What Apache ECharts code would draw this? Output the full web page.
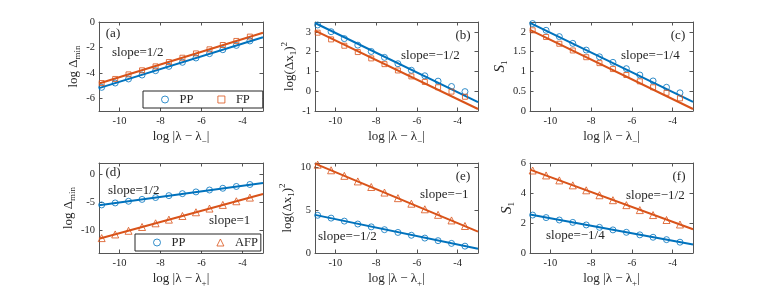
<!DOCTYPE html>
<html><head><meta charset="utf-8">
<script src="https://cdn.jsdelivr.net/npm/echarts@6/dist/echarts.min.js"></script>
<style>html,body{margin:0;padding:0;background:#fff}#c{width:766px;height:299px}</style>
</head><body><div id="c"></div>
<script>
// ---------- data ----------
const xPts = [-10.87, -10.21, -9.56, -8.9, -8.24, -7.59, -6.93, -6.27, -5.61, -4.96, -4.3, -3.64];
const xTicks = [-10, -8, -6, -4];
const fitX = [-11, -3];

// (a) log Delta_min vs log|lambda - lambda_-|
const aPP = [-5.14, -4.80, -4.48, -4.17, -3.83, -3.49, -3.17, -2.83, -2.49, -2.18, -1.84, -1.49];
const aFP = [-4.80, -4.48, -4.12, -3.80, -3.49, -3.15, -2.81, -2.47, -2.15, -1.81, -1.49, -1.15];
const aPPFit = [-5.2, -1.2];
const aFPFit = [-4.84, -0.84];
const aYTicks = [-6, -4, -2, 0];

// (b) log(Delta x1)^2
const bPP = [3.35, 3.01, 2.66, 2.33, 2.01, 1.71, 1.39, 1.06, 0.78, 0.51, 0.24, -0.02];
const bFP = [2.96, 2.62, 2.30, 1.98, 1.66, 1.37, 1.05, 0.75, 0.47, 0.20, -0.02, -0.28];
const bPPFit = [3.45, -0.55];
const bFPFit = [3.06, -0.9];
const bYTicks = [-1, 0, 1, 2, 3];

// (c) S_1
const cPP = [2.21, 2.04, 1.88, 1.71, 1.54, 1.37, 1.23, 1.07, 0.91, 0.76, 0.60, 0.46];
const cFP = [2.04, 1.87, 1.70, 1.53, 1.36, 1.21, 1.06, 0.91, 0.75, 0.60, 0.46, 0.32];
const cPPFit = [2.23, 0.23];
const cFPFit = [2.05, 0.05];
const cYTicks = [0, 0.5, 1, 1.5, 2];

// (d) log Delta_min vs log|lambda - lambda_+|
const dPP = [-5.45, -5.10, -4.80, -4.47, -4.14, -3.80, -3.45, -3.14, -2.80, -2.49, -2.17, -1.82];
const dAFP = [-11.35, -10.70, -10.05, -9.38, -8.72, -8.07, -7.42, -6.76, -6.10, -5.45, -4.80, -4.15];
const dPPFit = [-5.53, -1.54];
const dAFPFit = [-11.48, -3.5];
const dYTicks = [-10, -5, 0];

// (e) log(Delta x1)^2
const ePP = [4.40, 4.07, 3.72, 3.38, 3.05, 2.72, 2.40, 2.07, 1.74, 1.44, 1.12, 0.80];
const eAFP = [10.30, 9.65, 9.00, 8.35, 7.70, 7.05, 6.40, 5.75, 5.10, 4.45, 3.80, 3.15];
const ePPFit = [4.45, 0.5];
const eAFPFit = [10.42, 2.5];
const eYTicks = [0, 5, 10];

// (f) S_1
const fPP = [2.53, 2.36, 2.20, 2.04, 1.87, 1.71, 1.54, 1.38, 1.21, 1.05, 0.89, 0.72];
const fAFP = [5.50, 5.17, 4.84, 4.51, 4.18, 3.85, 3.52, 3.19, 2.86, 2.53, 2.20, 1.90];
const fPPFit = [2.56, 0.56];
const fAFPFit = [5.56, 1.58];
const fYTicks = [0, 2, 4, 6];

// ---------- style ----------
const BLUE = '#0072BD', ORANGE = '#D95319';
const FONT = 'Liberation Serif';
const TXT = '#262626';
const AX = '#555555';

const rich = {
  m: {fontFamily: FONT, fontSize: 13, color: TXT, lineHeight: 18, verticalAlign: 'middle'},
  s: {fontFamily: FONT, fontSize: 9, color: TXT, lineHeight: 18, verticalAlign: 'bottom'},
  p: {fontFamily: FONT, fontSize: 9, color: TXT, lineHeight: 18, verticalAlign: 'top'},
  i: {fontFamily: FONT, fontSize: 15, fontStyle: 'italic', color: TXT, lineHeight: 18, verticalAlign: 'middle'}
};

const panels = [
  {grid: {left: 99, top: 22, width: 164, height: 89}, y: [-7, 0], yt: aYTicks,
   yName: '{m|log Δ}{s|min}', yGap: 13, xName: '{m|log |λ − λ}{s|−}{m||}',
   s1: aPP, s2: aFP, f1: aPPFit, f2: aFPFit, n2: 'FP', sym2: 'rect'},
  {grid: {left: 315, top: 22, width: 163, height: 89}, y: [-1, 3.5], yt: bYTicks,
   yName: '{m|log(Δx}{s|1}{m|)}{p|2}', yGap: 11, xName: '{m|log |λ − λ}{s|−}{m||}',
   s1: bPP, s2: bFP, f1: bPPFit, f2: bFPFit, n2: 'FP', sym2: 'rect'},
  {grid: {left: 530, top: 22, width: 163, height: 89}, y: [0, 2.25], yt: cYTicks,
   yName: '{i|S}{s|1}', yGap: 18, xName: '{m|log |λ − λ}{s|−}{m||}',
   s1: cPP, s2: cFP, f1: cPPFit, f2: cFPFit, n2: 'FP', sym2: 'rect'},
  {grid: {left: 99, top: 163, width: 164, height: 90}, y: [-14, 2], yt: dYTicks,
   yName: '{m|log Δ}{s|min}', yGap: 19, xName: '{m|log |λ − λ}{s|+}{m||}',
   s1: dPP, s2: dAFP, f1: dPPFit, f2: dAFPFit, n2: 'AFP', sym2: 'triangle'},
  {grid: {left: 315, top: 163, width: 163, height: 90}, y: [0, 10.5], yt: eYTicks,
   yName: '{m|log(Δx}{s|1}{m|)}{p|2}', yGap: 11, xName: '{m|log |λ − λ}{s|+}{m||}',
   s1: ePP, s2: eAFP, f1: ePPFit, f2: eAFPFit, n2: 'AFP', sym2: 'triangle'},
  {grid: {left: 530, top: 163, width: 163, height: 90}, y: [0, 6], yt: fYTicks,
   yName: '{i|S}{s|1}', yGap: 14, xName: '{m|log |λ − λ}{s|+}{m||}',
   s1: fPP, s2: fAFP, f1: fPPFit, f2: fAFPFit, n2: 'AFP', sym2: 'triangle'}
];

const grid = [], xAxis = [], yAxis = [], series = [];
const zip = (xs, ys) => xs.map((x, k) => [x, ys[k]]);

panels.forEach((p, i) => {
  grid.push(Object.assign({containLabel: false}, p.grid));
  const tick = {show: true, inside: true, length: 3.5, lineStyle: {color: AX, width: 1}};
  const line = {show: true, onZero: false, lineStyle: {color: AX, width: 1}};
  xAxis.push({
    type: 'value', gridIndex: i, position: 'bottom', min: fitX[0], max: fitX[1],
    axisLine: line, splitLine: {show: false},
    axisTick: Object.assign({customValues: xTicks}, tick),
    axisLabel: {customValues: xTicks, margin: 5, fontFamily: FONT, fontSize: 10.5, color: TXT},
    name: p.xName, nameLocation: 'middle', nameGap: 17,
    nameTextStyle: {rich: rich}
  });
  xAxis.push({
    type: 'value', gridIndex: i, position: 'top', min: fitX[0], max: fitX[1],
    axisLine: line, splitLine: {show: false},
    axisTick: Object.assign({customValues: xTicks}, tick),
    axisLabel: {show: false}
  });
  yAxis.push({
    type: 'value', gridIndex: i, position: 'left', min: p.y[0], max: p.y[1],
    axisLine: line, splitLine: {show: false},
    axisTick: Object.assign({customValues: p.yt}, tick),
    axisLabel: {customValues: p.yt, margin: 4, fontFamily: FONT, fontSize: 10.5, color: TXT},
    name: p.yName, nameLocation: 'middle', nameRotate: 90, nameGap: p.yGap,
    nameTextStyle: {rich: rich}
  });
  yAxis.push({
    type: 'value', gridIndex: i, position: 'right', min: p.y[0], max: p.y[1],
    axisLine: line, splitLine: {show: false},
    axisTick: Object.assign({customValues: p.yt}, tick),
    axisLabel: {show: false}
  });
  const xi = 2 * i, yi = 2 * i;
  series.push({
    type: 'line', name: 'PP fit', xAxisIndex: xi, yAxisIndex: yi,
    data: zip(fitX, p.f1), showSymbol: false, lineStyle: {color: BLUE, width: 2}, z: 3
  });
  series.push({
    type: 'line', name: p.n2 + ' fit', xAxisIndex: xi, yAxisIndex: yi,
    data: zip(fitX, p.f2), showSymbol: false, lineStyle: {color: ORANGE, width: 2}, z: 3
  });
  series.push({
    type: 'scatter', name: 'PP', xAxisIndex: xi, yAxisIndex: yi,
    data: zip(xPts, p.s1), symbol: 'circle', symbolSize: 6,
    itemStyle: {color: 'rgba(0,0,0,0)', borderColor: BLUE, borderWidth: 1}, z: 4
  });
  series.push({
    type: 'scatter', name: p.n2, xAxisIndex: xi, yAxisIndex: yi,
    data: zip(xPts, p.s2), symbol: p.sym2, symbolSize: p.sym2 === 'rect' ? 5 : 7,
    itemStyle: {color: 'rgba(0,0,0,0)', borderColor: ORANGE, borderWidth: 1}, z: 4
  });
});

const legendBase = {
  orient: 'horizontal', itemWidth: 7, itemHeight: 7,
  borderColor: '#262626', borderWidth: 1, backgroundColor: '#fff',
  selectedMode: false,
  textStyle: {fontFamily: FONT, fontSize: 12.5, color: TXT, padding: [0, 0, 0, 6]}
};
const hollow = c => ({color: 'rgba(0,0,0,0)', borderColor: c, borderWidth: 1});
const legend = [
  Object.assign({}, legendBase, {left: 143, top: 91, itemGap: 24, padding: [2, 13, 2, 18],
    data: [{name: 'PP', icon: 'circle', itemStyle: hollow(BLUE)}, {name: 'FP', icon: 'rect', itemStyle: hollow(ORANGE)}]}),
  Object.assign({}, legendBase, {left: 135, top: 234, itemGap: 31, padding: [2, 3, 2, 18],
    data: [{name: 'PP', icon: 'circle', itemStyle: hollow(BLUE)}, {name: 'AFP', icon: 'triangle', itemStyle: hollow(ORANGE)}]})
];

const T = (text, x, y, align) => ({
  type: 'text', x: x, y: y,
  style: {text: text, fontFamily: FONT, fontSize: 13, fill: TXT, textAlign: align || 'left', textVerticalAlign: 'middle'}
});
const graphic = [
  T('(a)', 113, 34, 'center'), T('slope=1/2', 112, 53),
  T('(b)', 463, 36, 'center'), T('slope=−1/2', 401, 56),
  T('(c)', 678, 36, 'center'), T('slope=−1/4', 621, 56),
  T('(d)', 113, 173, 'center'), T('slope=1/2', 108, 191), T('slope=1', 209, 221),
  T('(e)', 463, 177, 'center'), T('slope=−1', 420, 195), T('slope=−1/2', 318, 237),
  T('(f)', 679, 177, 'center'), T('slope=−1/2', 626, 196), T('slope=−1/4', 546, 236)
];

const chart = echarts.init(document.getElementById('c'), null, {renderer: 'canvas'});
chart.setOption({
  animation: false, backgroundColor: '#fff',
  grid: grid, xAxis: xAxis, yAxis: yAxis, series: series, legend: legend, graphic: graphic
});
</script></body></html>
